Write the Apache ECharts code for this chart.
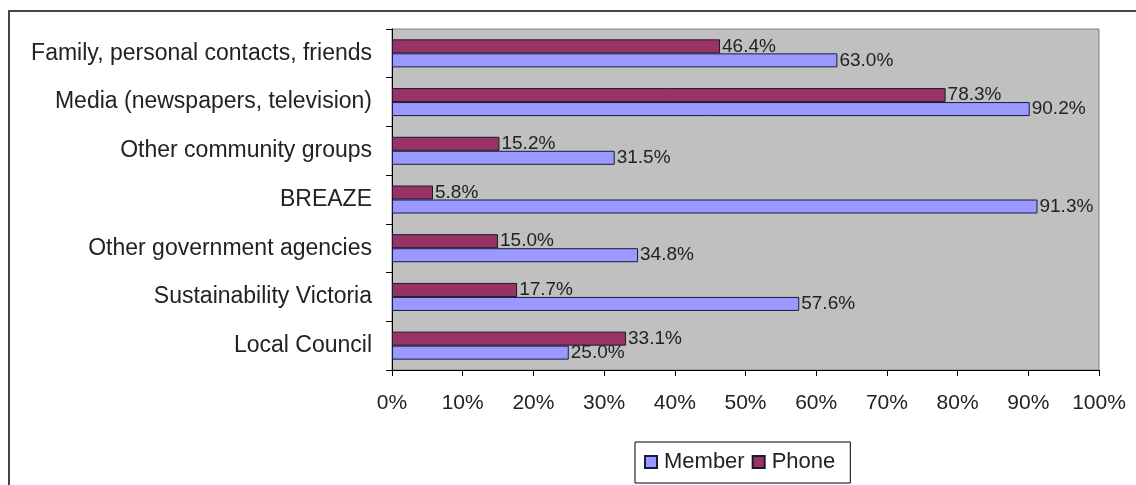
<!DOCTYPE html>
<html>
<head>
<meta charset="utf-8">
<script src="https://cdn.jsdelivr.net/npm/echarts@6/dist/echarts.min.js"></script>
<style>
    html, body { margin: 0; padding: 0; background: #fff; }
    #chart { width: 1136px; height: 485px; }
</style>
</head>
<body>
<div id="chart"></div>
<script>
// categories bottom to top (category axis starts at the bottom)
var categories = ['Local Council', 'Sustainability Victoria', 'Other government agencies', 'BREAZE',
    'Other community groups', 'Media (newspapers, television)', 'Family, personal contacts, friends'];
var memberValues = [25.0, 57.6, 34.8, 91.3, 31.5, 90.2, 63.0];
var phoneValues = [33.1, 17.7, 15.0, 5.8, 15.2, 78.3, 46.4];
var xTicks = [0, 10, 20, 30, 40, 50, 60, 70, 80, 90, 100];

var font = 'Liberation Sans, Arial, sans-serif';
var myChart = echarts.init(document.getElementById('chart'));

var labelOpt = {
    show: true,
    position: 'right',
    distance: 2,
    fontFamily: font,
    fontSize: 19,
    color: '#222',
    formatter: function (p) {
        return p.value.toFixed(1) + '%';
    }
};

var option = {
    animation: false,
    backgroundColor: '#fff',
    textStyle: { fontFamily: font },
    grid: {
        left: 392,
        right: 37,
        top: 29,
        bottom: 115,
        show: true,
        backgroundColor: '#C0C0C0',
        borderColor: '#808080',
        borderWidth: 1
    },
    legend: {
        left: 635,
        top: 442,
        padding: [9, 15, 10, 9],
        borderColor: '#000',
        borderWidth: 1,
        itemWidth: 12,
        itemHeight: 12,
        itemGap: 7,
        icon: 'rect',
        textStyle: { fontFamily: font, fontSize: 22, color: '#222', padding: [0, 0, 0, 2] },
        data: ['Member', 'Phone']
    },
    xAxis: {
        type: 'value',
        min: xTicks[0],
        max: xTicks[xTicks.length - 1],
        interval: 10,
        splitLine: { show: false },
        axisLine: { show: true, lineStyle: { color: '#000', width: 1 } },
        axisTick: { show: true, length: 6, lineStyle: { color: '#000' } },
        axisLabel: {
            margin: 23,
            fontFamily: font,
            fontSize: 21,
            color: '#222',
            formatter: '{value}%'
        }
    },
    yAxis: {
        type: 'category',
        data: categories,
        axisLine: { show: true, lineStyle: { color: '#000', width: 1 } },
        axisTick: { show: true, length: 6, lineStyle: { color: '#000' } },
        axisLabel: {
            margin: 20,
            fontFamily: font,
            fontSize: 23,
            color: '#222'
        }
    },
    // Phone listed first so it sits above Member in each band
    series: [{
        name: 'Phone',
        type: 'bar',
        data: phoneValues,
        barWidth: 14,
        barGap: '0%',
        itemStyle: { color: '#993366', borderColor: '#1a1a30', borderWidth: 1 },
        label: labelOpt
    }, {
        name: 'Member',
        type: 'bar',
        data: memberValues,
        barWidth: 14,
        barGap: '0%',
        itemStyle: { color: '#9999FF', borderColor: '#1a1a40', borderWidth: 1 },
        label: labelOpt
    }],
    graphic: [{
        type: 'polyline',
        silent: true,
        shape: { points: [[9, 485], [9, 11], [1136, 11]] },
        style: { stroke: '#444', lineWidth: 2, fill: null }
    }]
};
myChart.setOption(option);
</script>
</body>
</html>
